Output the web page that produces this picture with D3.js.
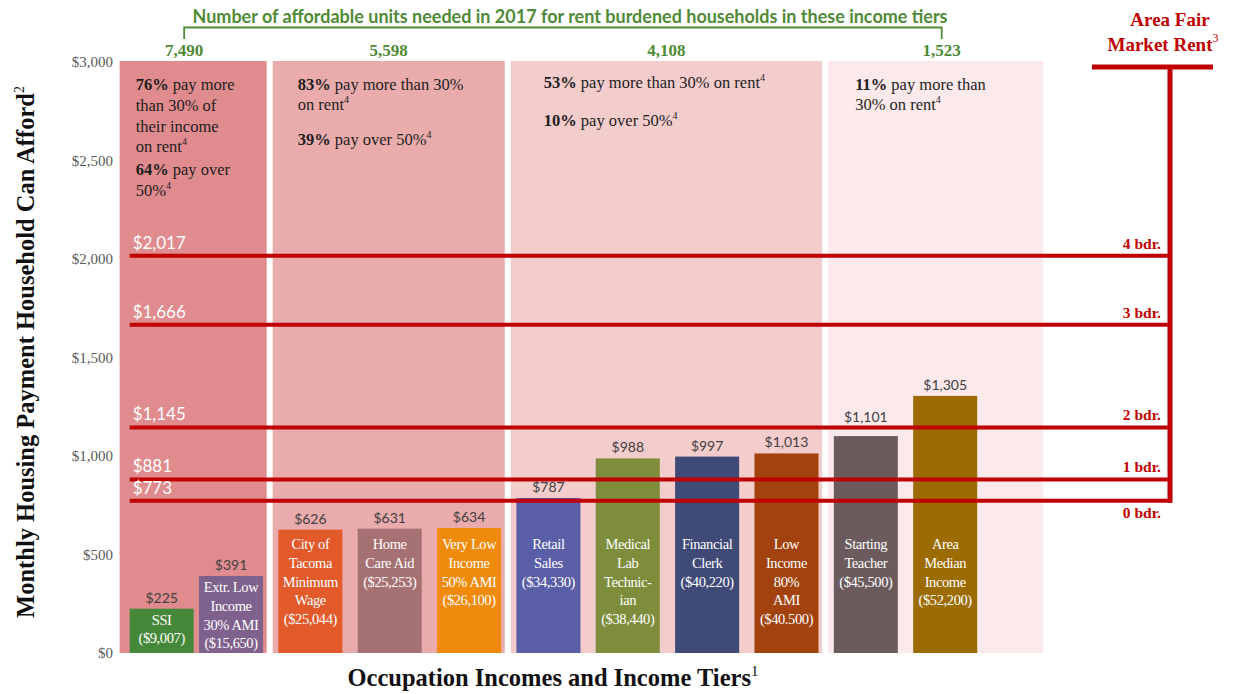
<!DOCTYPE html>
<html><head><meta charset="utf-8">
<script src="https://cdn.jsdelivr.net/npm/d3@7"></script>
<style>
html,body{margin:0;padding:0;background:#fff;}
svg{display:block;}
</style></head>
<body>
<svg id="chart" width="1237" height="694"></svg>
<script>
// ---------- DATA ----------
const categories = ["SSI","Extr. Low Income 30% AMI","City of Tacoma Minimum Wage","Home Care Aid","Very Low Income 50% AMI","Retail Sales","Medical Lab Technician","Financial Clerk","Low Income 80% AMI","Starting Teacher","Area Median Income"];
const barLines = [
  ["SSI","($9,007)"],
  ["Extr. Low","Income","30% AMI","($15,650)"],
  ["City of","Tacoma","Minimum","Wage","($25,044)"],
  ["Home","Care Aid","($25,253)"],
  ["Very Low","Income","50% AMI","($26,100)"],
  ["Retail","Sales","($34,330)"],
  ["Medical","Lab","Technic-","ian","($38,440)"],
  ["Financial","Clerk","($40,220)"],
  ["Low","Income","80%","AMI","($40.500)"],
  ["Starting","Teacher","($45,500)"],
  ["Area","Median","Income","($52,200)"]
];
const values = [225,391,626,631,634,787,988,997,1013,1101,1305];
const barColors = ["#46883a","#7e618c","#e2592a","#a67172","#ef8a0a","#5a5ea7","#7d8d3b","#3f4a77","#a2420e","#6b5b5d","#9c6c03"];
const barTier = [0,0,1,1,1,2,2,2,2,3,3];

const tierUnits = ["7,490","5,598","4,108","1,523"];
const tierColors = ["#e08b8d","#e9abac","#f3cccc","#fbe9eb"];
// each tier: paragraphs -> lines -> [bold part, normal part, superscript]
const tierText = [
  [[["76%"," pay more",""],[""," than 30% of",""],[""," their income",""],[""," on rent","4"]],
   [["64%"," pay over",""],[""," 50%","4"]]],
  [[["83%"," pay more than 30%",""],[""," on rent","4"]],
   [["39%"," pay over 50%","4"]]],
  [[["53%"," pay more than 30% on rent","4"]],
   [["10%"," pay over 50%","4"]]],
  [[["11%"," pay more than",""],[""," 30% on rent","4"]]]
];

const rentValues = [773,881,1145,1666,2017];
const rentLabels = ["0 bdr.","1 bdr.","2 bdr.","3 bdr.","4 bdr."];

const yTicks = [0,500,1000,1500,2000,2500,3000];
const topTitle = "Number of affordable units needed in 2017 for rent burdened households in these income tiers";
const yTitle = "Monthly Housing Payment Household Can Afford";
const xTitle = "Occupation Incomes and Income Tiers";
const rentTitle = ["Area Fair","Market Rent"];

// ---------- LAYOUT ----------
const svg = d3.select("#chart");
const SERIF = "'Liberation Serif','Times New Roman',serif";
const SANS = "Lato,'Open Sans',sans-serif";
const RED = "#c00000";
const GREEN = "#4f8a36";

const y = d3.scaleLinear().domain([0,3000]).range([653,62]);
const x = d3.scaleBand().domain(categories).range([119.65,977.2]).paddingInner(0.193).paddingOuter(0);
const bw = x.bandwidth();
const firstShift = 10; // first bar sits slightly closer to its neighbour in the original
const bx = (d,i) => x(d) + (i===0 ? firstShift : 0);

// tier panels
const tiers = d3.range(4).map(t => {
  const idx = barTier.map((v,i)=>v===t?i:-1).filter(i=>i>=0);
  return {t, first: idx[0], last: idx[idx.length-1]};
});
function boundary(i){ // midpoint between bar i end and bar i+1 start
  return (bx(categories[i],i) + bw + bx(categories[i+1],i+1))/2;
}
tiers.forEach(d=>{
  d.x0 = d.first===0 ? bx(categories[0],0) - 10 : boundary(d.first-1) + 2;
  d.x1 = d.last===categories.length-1 ? x(categories[d.last]) + bw + 66 : boundary(d.last) - 4;
});

svg.append("g").selectAll("rect").data(tiers).join("rect")
  .attr("x", d=>d.x0).attr("y", y(3000)-1)
  .attr("width", d=>d.x1-d.x0).attr("height", y(0)-y(3000)+1)
  .attr("fill", d=>tierColors[d.t]);

// tier descriptive text
const textOffsets = [16,25,33,27];
const firstBase = [90,90,88,90];
const lineGap = [20.8,20,20,20];
const paraGap = [23,35,38,20];
tiers.forEach(d=>{
  let yy = firstBase[d.t];
  tierText[d.t].forEach((para,pi)=>{
    if(pi>0) yy += paraGap[d.t] - lineGap[d.t];
    para.forEach(line=>{
      const tx = svg.append("text").attr("x", d.x0+textOffsets[d.t]).attr("y", yy)
        .attr("font-family", SERIF).attr("font-size", 16.5).attr("fill","#1e1e1e")
        .attr("xml:space","preserve");
      if(line[0]) tx.append("tspan").attr("font-weight","bold").text(line[0]);
      tx.append("tspan").text(line[0] ? line[1] : line[1].trimStart());
      if(line[2]) tx.append("tspan").attr("font-size",10).attr("dy",-7).text(line[2]);
      yy += lineGap[d.t];
    });
  });
});

// y axis
const yAxis = svg.append("g").attr("transform","translate(120,0)")
  .call(d3.axisLeft(y).tickValues(yTicks).tickSize(0).tickPadding(7).tickFormat(d=>"$"+d3.format(",")(d)));
yAxis.select(".domain").remove();
yAxis.selectAll("text").attr("font-family",SERIF).attr("font-size",15).attr("fill","#5a5a5a");

// bars
const bars = svg.append("g").selectAll("g").data(categories).join("g");
bars.append("rect")
  .attr("x", (d,i)=>bx(d,i)).attr("y", (d,i)=>y(values[i]))
  .attr("width", bw).attr("height", (d,i)=>y(0)-y(values[i]))
  .attr("fill", (d,i)=>barColors[i]);
// value labels (lifted above a rent line when they would sit on it)
function labelY(v){
  let b = y(v) - 6;
  rentValues.forEach(r=>{
    const ly = y(r);
    if(ly > b-12 && ly < b+4) b = ly - 5;
  });
  return b;
}
bars.append("text")
  .attr("x", (d,i)=>bx(d,i)+bw/2).attr("y", (d,i)=>labelY(values[i]))
  .attr("text-anchor","middle").attr("font-family",SANS).attr("font-size",14).attr("fill","#404040")
  .text((d,i)=>"$"+d3.format(",")(values[i]));
// inner labels
bars.each(function(d,i){
  const g = d3.select(this);
  const startC = Math.max(y(values[i])+11, 544);
  barLines[i].forEach((ln,j)=>{
    g.append("text").attr("x", bx(d,i)+bw/2).attr("y", startC + 5 + j*18.8)
      .attr("text-anchor","middle").attr("font-family",SERIF).attr("font-size",14.5)
      .attr("fill","#ffffff").attr("letter-spacing","-0.4").text(ln);
  });
});

// fair market rent lines
const lineX0 = bx(categories[0],0);
const vertX = 1170;
svg.append("g").selectAll("line").data(rentValues).join("line")
  .attr("x1", lineX0).attr("x2", vertX+2)
  .attr("y1", d=>y(d)).attr("y2", d=>y(d))
  .attr("stroke", RED).attr("stroke-width", 4);
svg.append("line").attr("x1",vertX).attr("x2",vertX)
  .attr("y1",65).attr("y2",y(rentValues[0])+2)
  .attr("stroke",RED).attr("stroke-width",5);
svg.append("line").attr("x1",1092).attr("x2",1213).attr("y1",67).attr("y2",67)
  .attr("stroke",RED).attr("stroke-width",5);

// rent value labels (left, white)
svg.append("g").selectAll("text").data(rentValues).join("text")
  .attr("x", lineX0+3).attr("y", d=>y(d)-7)
  .attr("font-family",SANS).attr("font-size",17).attr("fill","#ffffff")
  .text(d=>"$"+d3.format(",")(d));
// bedroom labels (right)
svg.append("g").selectAll("text").data(rentValues).join("text")
  .attr("x", 1161).attr("y", (d,i)=> i===0 ? y(d)+17 : y(d)-7)
  .attr("text-anchor","end").attr("font-family",SERIF).attr("font-weight","bold")
  .attr("font-size",15.5).attr("fill",RED)
  .text((d,i)=>rentLabels[i]);

// rent title
svg.append("text").attr("x",1170).attr("y",26).attr("text-anchor","middle")
  .attr("font-family",SERIF).attr("font-weight","bold").attr("font-size",19).attr("fill",RED)
  .text(rentTitle[0]);
const rt = svg.append("text").attr("x",1163).attr("y",51).attr("text-anchor","middle")
  .attr("font-family",SERIF).attr("font-weight","bold").attr("font-size",19).attr("fill",RED);
rt.append("tspan").text(rentTitle[1]);
rt.append("tspan").attr("font-size",12).attr("font-weight","normal").attr("dy",-9).text("3");

// top title + bracket
const tierCenters = tiers.map(d=>(d.x0+d.x1)/2);
const unitX = tierCenters.slice();
unitX[0] = tierCenters[0]-9; unitX[3] = tierCenters[3]+6;
svg.append("text").attr("x",570).attr("y",23).attr("text-anchor","middle")
  .attr("font-family",SANS).attr("font-weight","bold").attr("font-size",18).attr("fill",GREEN)
  .attr("textLength",755).attr("lengthAdjust","spacingAndGlyphs")
  .text(topTitle);
svg.append("path")
  .attr("d", `M${unitX[0]},39V27.5H${unitX[3]}V39`)
  .attr("fill","none").attr("stroke",GREEN).attr("stroke-width",1.8);
svg.append("g").selectAll("text").data(tierUnits).join("text")
  .attr("x",(d,i)=>unitX[i]).attr("y",56).attr("text-anchor","middle")
  .attr("font-family",SERIF).attr("font-weight","bold").attr("font-size",17).attr("fill",GREEN)
  .text(d=>d);

// y title
const yt = svg.append("text").attr("transform","translate(34,352) rotate(-90)")
  .attr("text-anchor","middle").attr("font-family",SERIF).attr("font-weight","bold")
  .attr("font-size",24.5).attr("fill","#111");
yt.append("tspan").text(yTitle);
yt.append("tspan").attr("font-size",14).attr("font-weight","normal").attr("dy",-10).text("2");

// x title
const xt = svg.append("text").attr("x",553).attr("y",686).attr("text-anchor","middle")
  .attr("font-family",SERIF).attr("font-weight","bold").attr("font-size",24.5).attr("fill","#111");
xt.append("tspan").text(xTitle);
xt.append("tspan").attr("font-size",15).attr("font-weight","normal").attr("dy",-10).text("1");
</script>
</body></html>
